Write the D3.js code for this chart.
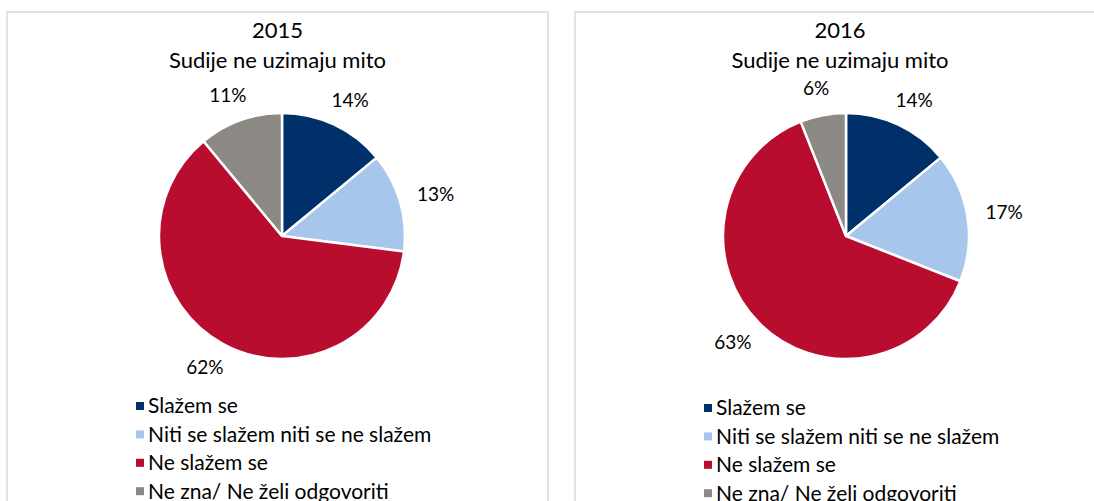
<!DOCTYPE html>
<html>
<head>
<meta charset="UTF-8">
<script src="https://cdn.jsdelivr.net/npm/d3@7"></script>
<style>
body { margin: 0; background: #fff; }
text { font-family: Lato, "Open Sans", sans-serif; fill: #000; }
</style>
</head>
<body>
<script>
var Width = 1094, Height = 501;

// data
var categories = ["Slažem se", "Niti se slažem niti se ne slažem", "Ne slažem se", "Ne zna/ Ne želi odgovoriti"];
var years = ["2015", "2016"];
var values2015 = [14, 13, 62, 11];
var values2016 = [14, 17, 63, 6];
var subtitle = "Sudije ne uzimaju mito";
var colors = ["#00306a", "#a7c6eb", "#b90d30", "#8c8985"];

var panels = [
    {year: years[0], values: values2015, x: 7, w: 541, legendY: 406},
    {year: years[1], values: values2016, x: 575, w: 530, legendY: 408}
];

var svg = d3.select("body").append("svg")
    .attr("width", Width)
    .attr("height", Height);

var color = d3.scaleOrdinal().domain(categories).range(colors);
var radius = 123, labelRadius = 142;

var pie = d3.pie().sort(null).value(function(d){ return d.v; });
var arc = d3.arc().innerRadius(0).outerRadius(radius);

// label outside the slice, pushed out by half its box
var labelPos = function(d){
    var a = (d.startAngle + d.endAngle) / 2;
    var sx = Math.sin(a), cy = -Math.cos(a);
    return [sx * labelRadius + sx * 18, cy * labelRadius + cy * 8];
};

panels.forEach(function(p, k){
    var g = svg.append("g");
    g.append("rect")
        .attr("x", p.x).attr("y", 12)
        .attr("width", p.w).attr("height", 510)
        .attr("fill", "#fff")
        .attr("stroke", "#d9d9d9")
        .attr("stroke-width", 1.5);

    var cx = p.x + 275 - (k == 0 ? 0 : 4);
    var cy = 236;

    g.append("text").attr("x", p.x + p.w / 2).attr("y", 38)
        .attr("text-anchor", "middle").style("font-size", "22px").text(p.year);
    g.append("text").attr("x", p.x + p.w / 2).attr("y", 68)
        .attr("text-anchor", "middle").style("font-size", "22px").text(subtitle);

    var data = categories.map(function(c, i){ return {c: c, v: p.values[i]}; });
    var arcs = pie(data);
    var pg = g.append("g").attr("transform", "translate(" + cx + "," + cy + ")");
    pg.selectAll("path").data(arcs).enter().append("path")
        .attr("d", arc)
        .attr("fill", function(d){ return color(d.data.c); })
        .attr("stroke", "#fff")
        .attr("stroke-width", 2.5)
        .attr("stroke-linejoin", "round");
    pg.selectAll("text").data(arcs).enter().append("text")
        .attr("transform", function(d){ return "translate(" + labelPos(d) + ")"; })
        .attr("text-anchor", "middle")
        .attr("dy", "0.35em")
        .style("font-size", "19px")
        .text(function(d){ return d.data.v + "%"; });

    var lg = g.append("g").attr("transform", "translate(" + (p.x + 129) + "," + p.legendY + ")");
    var items = lg.selectAll("g").data(categories).enter().append("g")
        .attr("transform", function(d, i){ return "translate(0," + (i * 28.4) + ")"; });
    items.append("rect").attr("x", 0).attr("y", -4).attr("width", 8).attr("height", 8)
        .attr("fill", function(d){ return color(d); });
    items.append("text").attr("x", 12).attr("dy", "0.35em")
        .style("font-size", "21px")
        .text(function(d){ return d; });
});
</script>
</body>
</html>
